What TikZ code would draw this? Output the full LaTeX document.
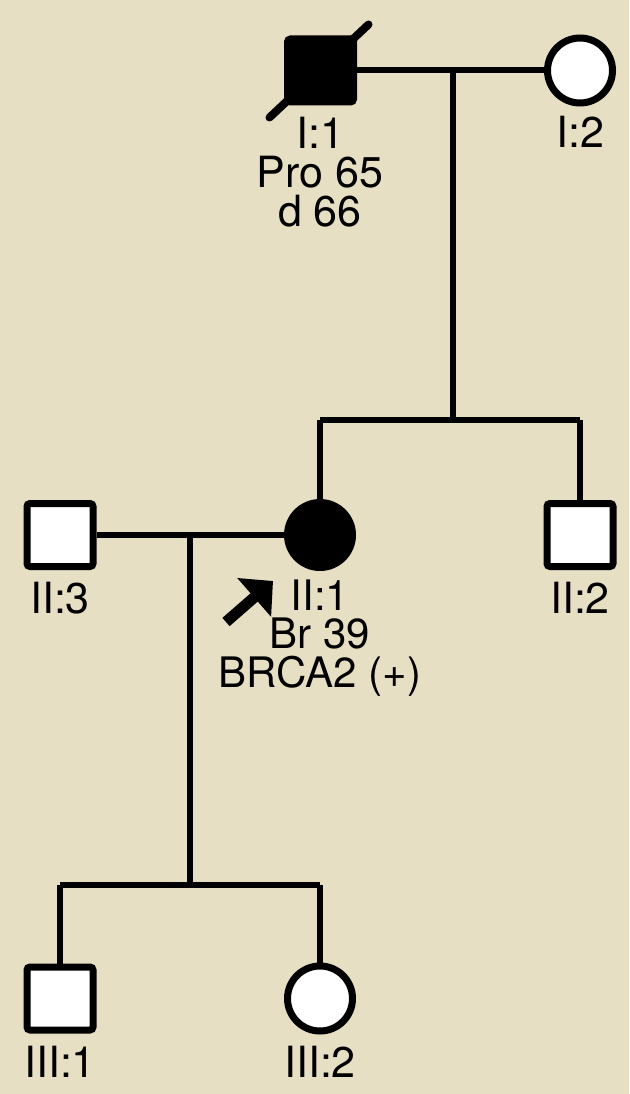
\documentclass[tikz,border=0pt]{standalone}
\usepackage{fontspec}
\setmainfont{TeX Gyre Heros}
\usetikzlibrary{shapes.geometric,arrows.meta}
\definecolor{bgbeige}{RGB}{231,223,196}
\tikzset{
  male/.style={draw=black, line width=7pt, fill=white, rectangle, rounded corners=3pt, minimum width=66pt, minimum height=63pt, inner sep=0pt},
  female/.style={draw=black, line width=7pt, fill=white, circle, minimum size=65pt, inner sep=0pt},
  affected/.style={fill=black},
  conn/.style={draw=black, line width=6pt},
  lbl/.style={anchor=base, inner sep=0pt, align=center, font=\fontsize{43}{39}\selectfont},
}
\begin{document}
\begin{tikzpicture}[x=1pt,y=-1pt]
\useasboundingbox[fill=bgbeige] (0,0) rectangle (629,1094);

% individuals
\node[male, affected] (I1) at (320.5,70.5) {};
\node[female] (I2) at (580,70.5) {};
\node[male] (II3) at (60,535) {};
\node[female, affected] (II1) at (320,535) {};
\node[male] (II2) at (580,535) {};
\node[male] (III1) at (60,998.5) {};
\node[female] (III2) at (320,998.5) {};

% coordinates for connector junctions
\coordinate (m1) at (453,70.5);
\coordinate (s1) at (453,420);
\coordinate (s1l) at (320,420);
\coordinate (s1r) at (580,420);
\coordinate (m2) at (190,535);
\coordinate (s2) at (190,885);
\coordinate (s2l) at (60,885);
\coordinate (s2r) at (320,885);

% connectors
\path[conn] (I1) -- (I2);
\path[conn] (m1) -- (s1);
\path[conn] (s1l) -- (s1r);
\path[conn] (s1l) -- (II1);
\path[conn] (s1r) -- (II2);
\path[conn] (II3) -- (II1);
\path[conn] (m2) -- (s2);
\path[conn] (s2l) -- (s2r);
\path[conn] (s2l) -- (III1);
\path[conn] (s2r) -- (III2);

% deceased slash
\draw[line width=8pt, line cap=round] ([shift={(-51,47)}]I1.center) -- ([shift={(48,-46)}]I1.center);

% proband arrow
\coordinate (arrS) at (226,622);
\coordinate (arrE) at (273,581);
\draw[line width=11pt, -{Triangle[length=25pt,width=50pt]}] (arrS) -- (arrE);

% labels (multi-line nodes: base anchor is the baseline of the last line)
\node[lbl] (tI1) at (320,226) {I:1\\Pro 65\\d 66};
\node[lbl] (tI2) at (580,148) {I:2};
\node[lbl] (tII3) at (60,613) {II:3};
\node[lbl, font=\fontsize{42}{38.5}\selectfont] (tII1) at (320,687) {II:1\\Br 39\\BRCA2 (+)};
\node[lbl] (tII2) at (580,613) {II:2};
\node[lbl] (tIII1) at (60,1077) {III:1};
\node[lbl] (tIII2) at (320,1077) {III:2};
\end{tikzpicture}
\end{document}
